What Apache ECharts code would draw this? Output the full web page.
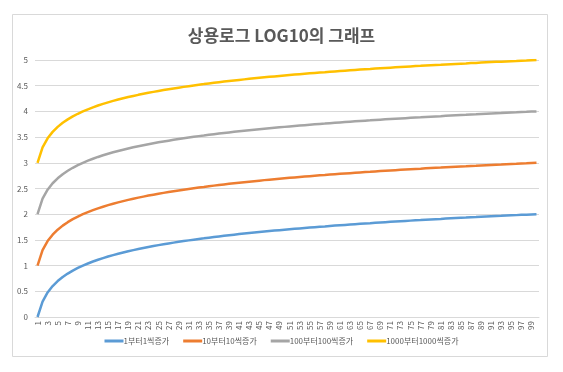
<!DOCTYPE html>
<html><head><meta charset="utf-8">
<script src="https://cdn.jsdelivr.net/npm/echarts@6/dist/echarts.min.js"></script>
<style>html,body{margin:0;padding:0;background:#fff}#c{width:563px;height:372px}</style>
</head><body><div id="c"></div>
<script>
var categories = [1,2,3,4,5,6,7,8,9,10,11,12,13,14,15,16,17,18,19,20,21,22,23,24,25,26,27,28,29,30,31,32,33,34,35,36,37,38,39,40,41,42,43,44,45,46,47,48,49,50,51,52,53,54,55,56,57,58,59,60,61,62,63,64,65,66,67,68,69,70,71,72,73,74,75,76,77,78,79,80,81,82,83,84,85,86,87,88,89,90,91,92,93,94,95,96,97,98,99,100];
var seriesNames = ['1부터1씩증가','10부터10씩증가','100부터100씩증가','1000부터1000씩증가'];
var s1 = [0,0.301,0.477,0.602,0.699,0.778,0.845,0.903,0.954,1,1.041,1.079,1.114,1.146,1.176,1.204,1.230,1.255,1.279,1.301,1.322,1.342,1.362,1.380,1.398,1.415,1.431,1.447,1.462,1.477,1.491,1.505,1.519,1.531,1.544,1.556,1.568,1.580,1.591,1.602,1.613,1.623,1.633,1.643,1.653,1.663,1.672,1.681,1.690,1.699,1.708,1.716,1.724,1.732,1.740,1.748,1.756,1.763,1.771,1.778,1.785,1.792,1.799,1.806,1.813,1.820,1.826,1.833,1.839,1.845,1.851,1.857,1.863,1.869,1.875,1.881,1.886,1.892,1.898,1.903,1.908,1.914,1.919,1.924,1.929,1.934,1.940,1.944,1.949,1.954,1.959,1.964,1.968,1.973,1.978,1.982,1.987,1.991,1.996,2];
var s2 = [1,1.301,1.477,1.602,1.699,1.778,1.845,1.903,1.954,2,2.041,2.079,2.114,2.146,2.176,2.204,2.230,2.255,2.279,2.301,2.322,2.342,2.362,2.380,2.398,2.415,2.431,2.447,2.462,2.477,2.491,2.505,2.519,2.531,2.544,2.556,2.568,2.580,2.591,2.602,2.613,2.623,2.633,2.643,2.653,2.663,2.672,2.681,2.690,2.699,2.708,2.716,2.724,2.732,2.740,2.748,2.756,2.763,2.771,2.778,2.785,2.792,2.799,2.806,2.813,2.820,2.826,2.833,2.839,2.845,2.851,2.857,2.863,2.869,2.875,2.881,2.886,2.892,2.898,2.903,2.908,2.914,2.919,2.924,2.929,2.934,2.940,2.944,2.949,2.954,2.959,2.964,2.968,2.973,2.978,2.982,2.987,2.991,2.996,3];
var s3 = [2,2.301,2.477,2.602,2.699,2.778,2.845,2.903,2.954,3,3.041,3.079,3.114,3.146,3.176,3.204,3.230,3.255,3.279,3.301,3.322,3.342,3.362,3.380,3.398,3.415,3.431,3.447,3.462,3.477,3.491,3.505,3.519,3.531,3.544,3.556,3.568,3.580,3.591,3.602,3.613,3.623,3.633,3.643,3.653,3.663,3.672,3.681,3.690,3.699,3.708,3.716,3.724,3.732,3.740,3.748,3.756,3.763,3.771,3.778,3.785,3.792,3.799,3.806,3.813,3.820,3.826,3.833,3.839,3.845,3.851,3.857,3.863,3.869,3.875,3.881,3.886,3.892,3.898,3.903,3.908,3.914,3.919,3.924,3.929,3.934,3.940,3.944,3.949,3.954,3.959,3.964,3.968,3.973,3.978,3.982,3.987,3.991,3.996,4];
var s4 = [3,3.301,3.477,3.602,3.699,3.778,3.845,3.903,3.954,4,4.041,4.079,4.114,4.146,4.176,4.204,4.230,4.255,4.279,4.301,4.322,4.342,4.362,4.380,4.398,4.415,4.431,4.447,4.462,4.477,4.491,4.505,4.519,4.531,4.544,4.556,4.568,4.580,4.591,4.602,4.613,4.623,4.633,4.643,4.653,4.663,4.672,4.681,4.690,4.699,4.708,4.716,4.724,4.732,4.740,4.748,4.756,4.763,4.771,4.778,4.785,4.792,4.799,4.806,4.813,4.820,4.826,4.833,4.839,4.845,4.851,4.857,4.863,4.869,4.875,4.881,4.886,4.892,4.898,4.903,4.908,4.914,4.919,4.924,4.929,4.934,4.940,4.944,4.949,4.954,4.959,4.964,4.968,4.973,4.978,4.982,4.987,4.991,4.996,5];
var colors = ['#5B9BD5','#ED7D31','#A5A5A5','#FFC000'];

var chart = echarts.init(document.getElementById('c'), null, {renderer:'canvas'});
var font = '"Noto Sans CJK KR", "Noto Sans", sans-serif';
var allData = [s1,s2,s3,s4];
chart.setOption({
  backgroundColor:'#fff',
  animation:false,
  color: colors,
  graphic:[{type:'rect', shape:{x:12.5,y:14.5,width:535,height:342}, style:{fill:'none', stroke:'#D9D9D9', lineWidth:1}, z:-1}],
  title:{text:'상용로그 LOG10의 그래프', left:'center', top:22, textStyle:{fontFamily:font, fontSize:17, fontWeight:'bold', color:'#595959'}},
  grid:{left:35, right:24, top:60, bottom:55, containLabel:false},
  legend:{bottom:22, left:'center', itemWidth:19, itemHeight:3, itemGap:14, icon:'rect',
    textStyle:{fontFamily:font, fontSize:8, color:'#595959', padding:[0,0,0,-5]}, data:seriesNames},
  xAxis:{type:'category', data:categories, boundaryGap:true,
    axisLine:{lineStyle:{color:'#D9D9D9'}}, axisTick:{show:false},
    axisLabel:{interval:1, rotate:90, fontSize:8, color:'#595959', fontFamily:font, margin:4}},
  yAxis:{type:'value', min:0, max:5, interval:0.5,
    axisLine:{show:false}, axisTick:{show:false},
    splitLine:{lineStyle:{color:'#D9D9D9'}},
    axisLabel:{fontSize:8, color:'#595959', fontFamily:font, margin:7}},
  series: seriesNames.map(function(n,i){return {name:n, type:'line', data:allData[i], symbol:'none', smooth:false, lineStyle:{width:2.5, color:colors[i]}};})
});
</script>
</body></html>
